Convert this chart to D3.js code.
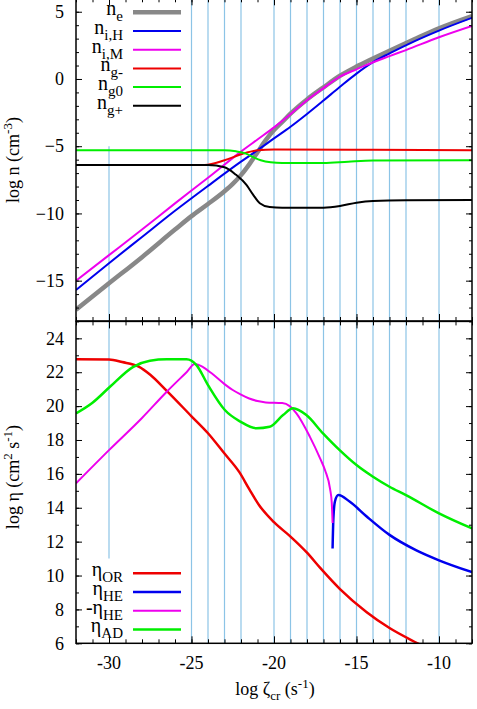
<!DOCTYPE html>
<html>
<head>
<meta charset="utf-8">
<script src="https://cdn.jsdelivr.net/npm/d3@7"></script>
<style>
  body { margin: 0; background: #fff; }
  svg text { font-family: "Liberation Serif", "Times New Roman", serif; }
</style>
</head>
<body>
<div id="chart-container"></div>
<script>
// log zeta_cr (s^-1) on x; top panel log n (cm^-3), bottom panel log eta (cm^2 s^-1)

// top panel: number densities
const nE = [[-32, -17.16], [-30, -15.2], [-28, -13.25], [-26, -11.2], [-25, -10.2], [-24, -9.3],
  [-23, -8.35], [-22.5, -7.8], [-22, -7.15], [-21.5, -6.35], [-21, -5.45], [-20.5, -4.55],
  [-20, -3.8], [-19.5, -3.2], [-19, -2.58], [-18, -1.52], [-17, -0.62], [-16, 0.24], [-15, 0.92],
  [-14, 1.52], [-13, 2.1], [-11.5, 2.95], [-10, 3.77], [-8, 4.68]];
const nIH = [[-32, -15.7], [-30, -13.7], [-28, -11.75], [-26, -9.8], [-24, -7.95], [-22, -6.15],
  [-21, -5.3], [-20, -4.42], [-19, -3.55], [-18, -2.6], [-17, -1.6], [-16, -0.58], [-15, 0.4],
  [-14, 1.25], [-13, 1.9], [-11.5, 2.8], [-10, 3.6], [-8, 4.55]];
const nIM = [[-32, -15.0], [-30, -13.1], [-28, -11.2], [-26, -9.25], [-24, -7.35], [-22, -5.4],
  [-21, -4.5], [-20, -3.6], [-19, -2.62], [-18, -1.58], [-17, -0.68], [-16, 0.17], [-15, 0.72],
  [-14.5, 0.99], [-13, 1.7], [-12, 2.15], [-10, 3.1], [-8, 3.94]];
const nGminus = [[-32, -6.4], [-24.2, -6.4], [-23, -6.05], [-22, -5.6], [-21, -5.3], [-20, -5.25],
  [-14, -5.27], [-8, -5.3]];
const nG0 = [[-32, -5.3], [-23, -5.3], [-22.3, -5.38], [-21.7, -5.55], [-21.2, -5.85],
  [-20.8, -6.05], [-20.2, -6.2], [-19.5, -6.25], [-17, -6.25], [-15.5, -6.15], [-14, -6.07], [-8, -6.05]];
const nGplus = [[-32, -6.4], [-24, -6.4], [-23, -6.56], [-22.3, -7.13], [-21.67, -7.87],
  [-21.27, -8.6], [-20.86, -9.24], [-20.26, -9.53], [-19.5, -9.57], [-17, -9.57], [-16, -9.45],
  [-15, -9.2], [-14, -9.07], [-12, -9.02], [-8, -9.01]];

// bottom panel: resistivities
const etaOR = [[-32, 22.76], [-30, 22.75], [-29.2, 22.6], [-28.2, 22.33], [-27.5, 21.85],
  [-26.5, 20.9], [-25, 19.4], [-24, 18.4], [-23, 17.2], [-22.1, 16.1], [-21.5, 15.1],
  [-20.9, 14.15], [-20, 13.15], [-19, 12.3], [-18, 11.35], [-17.2, 10.45], [-16, 9.2],
  [-14.4, 7.85], [-13, 6.9], [-11.3, 6.0], [-10.5, 5.6]];
const etaHE = [[-16.45, 11.6], [-16.4, 13.4], [-16.3, 14.4], [-16.1, 14.75], [-15.4, 14.35],
  [-14.4, 13.5], [-13, 12.4], [-11.4, 11.5], [-10, 10.9], [-8, 10.2]];
const etaHEneg = [[-32, 15.44], [-30, 17.4], [-28, 19.3], [-26.5, 20.85], [-25.3, 22.0],
  [-24.8, 22.48], [-24.3, 22.3], [-23.8, 21.95], [-23, 21.3], [-22.5, 20.95], [-22, 20.68],
  [-21.5, 20.45], [-21, 20.3], [-20.5, 20.22], [-19.5, 20.18], [-19.05, 20.0], [-18.64, 19.57],
  [-17.83, 18.2], [-17.2, 16.9], [-16.9, 16.2], [-16.6, 15.1], [-16.5, 14.3], [-16.45, 13.1]];
const etaAD = [[-32, 19.57], [-31, 20.2], [-29.94, 21.14], [-28.53, 22.32], [-27.52, 22.68],
  [-26.5, 22.76], [-25.3, 22.76], [-24.7, 22.42], [-24, 21.24], [-22.98, 19.77], [-22.03, 19.08],
  [-21.06, 18.69], [-20.26, 18.78], [-19.45, 19.47], [-18.85, 19.87], [-18.04, 19.47],
  [-17.03, 18.39], [-16.02, 17.4], [-15, 16.52], [-14, 15.83], [-13, 15.24], [-12, 14.75],
  [-10, 13.67], [-8, 12.78]];

// vertical reference lines (log zeta_cr)
const zetaMarks = [-30, -25, -24, -23, -22, -20, -19, -18, -17, -16, -15, -14, -13, -12, -10];

const xTicks = [-30, -25, -20, -15, -10];
const topTicks = [-15, -10, -5, 0, 5];
const bottomTicks = [6, 8, 10, 12, 14, 16, 18, 20, 22, 24];

// draw order: grey underneath so the thin lines sit on top of it
const topSeries = [
  { key: "ne", data: nE, color: "#888888", width: 4.5, label: ["n", "e"] },
  { key: "niH", data: nIH, color: "#0000ee", width: 2, label: ["n", "i,H"] },
  { key: "niM", data: nIM, color: "#ee00ee", width: 2, label: ["n", "i,M"] },
  { key: "ngm", data: nGminus, color: "#ee0000", width: 2, label: ["n", "g-"] },
  { key: "ng0", data: nG0, color: "#00ee00", width: 2, label: ["n", "g0"] },
  { key: "ngp", data: nGplus, color: "#000000", width: 2, label: ["n", "g+"] },
];
const bottomSeries = [
  { key: "or", data: etaOR, color: "#ee0000", width: 2.5, label: ["\u03b7", "OR"] },
  { key: "he", data: etaHE, color: "#0000ee", width: 2.5, label: ["\u03b7", "HE"] },
  { key: "hen", data: etaHEneg, color: "#ee00ee", width: 2, label: ["-\u03b7", "HE"] },
  { key: "ad", data: etaAD, color: "#00ee00", width: 2.5, label: ["\u03b7", "AD"] },
];

// dimensions
const width = 477;
const height = 709;
const left = 76;
const right = 472;
const serif = "Liberation Serif";

const x = d3.scaleLinear().domain([-32, -8]).range([left, right]);
const yTop = d3.scaleLinear().domain([-18, 6]).range([321, -1.7]);
const yBot = d3.scaleLinear().domain([6, 25]).range([643.3, 321.4]);

const svg = d3
  .select("#chart-container")
  .append("svg")
  .attr("width", width)
  .attr("height", height)
  .attr("viewBox", [0, 0, width, height])
  .attr("font-family", serif);

function plainAxis(a) {
  a.attr("font-family", null).attr("font-size", null);
  a.select(".domain").remove();
}

function drawPanel(y, series, majorY, id, legendTop) {
  const [y0, y1] = y.range();
  const g = svg.append("g").attr("class", "panel-" + id);

  g.append("clipPath")
    .attr("id", "clip-" + id)
    .append("rect")
    .attr("x", left)
    .attr("y", y1)
    .attr("width", right - left)
    .attr("height", y0 - y1);

  // reference lines; the -30 one stops short of the legend
  g.append("g")
    .selectAll("line")
    .data(zetaMarks)
    .join("line")
    .attr("x1", (d) => x(d))
    .attr("x2", (d) => x(d))
    .attr("y1", (d) => (d === -30 && id === "top" ? y(-5) : y1))
    .attr("y2", (d) => (d === -30 && id === "bot" ? y(11) : y0))
    .attr("stroke", "#8cc4e6")
    .attr("stroke-width", 1.2);

  // curves
  const line = d3
    .line()
    .x((d) => x(d[0]))
    .y((d) => y(d[1]))
    .curve(d3.curveMonotoneX);

  g.append("g")
    .attr("clip-path", `url(#clip-${id})`)
    .selectAll("path")
    .data(series)
    .join("path")
    .attr("fill", "none")
    .attr("stroke", (d) => d.color)
    .attr("stroke-width", (d) => d.width)
    .attr("stroke-linejoin", "round")
    .attr("d", (d) => line(d.data));

  // axes: ticks inside, mirrored on all four sides
  const yMinor = d3.range(y.domain()[0], y.domain()[1] + 0.01, 1);
  const xMinor = d3.range(-32, -7.99, 1);

  g.append("g")
    .attr("transform", `translate(${left},0)`)
    .call(d3.axisLeft(y).tickValues(yMinor).tickSize(-3).tickFormat(""))
    .call(plainAxis);
  g.append("g")
    .attr("transform", `translate(${right},0)`)
    .call(d3.axisRight(y).tickValues(yMinor).tickSize(-3).tickFormat(""))
    .call(plainAxis);
  g.append("g")
    .attr("class", "y-major")
    .attr("transform", `translate(${left},0)`)
    .call(d3.axisLeft(y).tickValues(majorY).tickSize(-6).tickPadding(12).tickFormat(d3.format("d")))
    .call(plainAxis);
  g.append("g")
    .attr("transform", `translate(${right},0)`)
    .call(d3.axisRight(y).tickValues(majorY).tickSize(-6).tickFormat(""))
    .call(plainAxis);

  g.append("g")
    .attr("transform", `translate(0,${y0})`)
    .call(d3.axisBottom(x).tickValues(xMinor).tickSize(-4).tickFormat(""))
    .call(plainAxis);
  g.append("g")
    .attr("transform", `translate(0,${y1})`)
    .call(d3.axisTop(x).tickValues(xMinor).tickSize(-4).tickFormat(""))
    .call(plainAxis);
  g.append("g")
    .attr("transform", `translate(0,${y0})`)
    .call(d3.axisBottom(x).tickValues(xTicks).tickSize(-7).tickFormat(""))
    .call(plainAxis);
  g.append("g")
    .attr("transform", `translate(0,${y1})`)
    .call(d3.axisTop(x).tickValues(xTicks).tickSize(-7).tickFormat(""))
    .call(plainAxis);

  g.selectAll(".tick line").attr("stroke", "#000").attr("stroke-width", 1);
  g.selectAll(".y-major text")
    .attr("font-size", 18)
    .attr("font-family", serif)
    .attr("fill", "#000");

  // frame
  g.append("rect")
    .attr("x", left)
    .attr("y", y1)
    .attr("width", right - left)
    .attr("height", y0 - y1)
    .attr("fill", "none")
    .attr("stroke", "#000")
    .attr("stroke-width", 1.5);

  // legend
  const leg = g
    .append("g")
    .selectAll("g")
    .data(series)
    .join("g")
    .attr("transform", (d, i) => `translate(0,${legendTop + i * 18.7})`);
  leg.append("line")
    .attr("x1", 133)
    .attr("x2", 181)
    .attr("stroke", (d) => d.color)
    .attr("stroke-width", (d) => d.width);
  const t = leg.append("text")
    .attr("x", 123)
    .attr("y", 3)
    .attr("text-anchor", "end")
    .attr("font-family", serif)
    .attr("font-size", 20);
  t.append("tspan").text((d) => d.label[0]);
  t.append("tspan").attr("dy", 6).attr("font-size", 15).text((d) => d.label[1]);
}

drawPanel(yTop, topSeries, topTicks, "top", 12.3);
drawPanel(yBot, bottomSeries, bottomTicks, "bot", 573.3);

// x tick labels
svg.append("g")
  .selectAll("text")
  .data(xTicks)
  .join("text")
  .attr("x", (d) => x(d))
  .attr("y", 669)
  .attr("text-anchor", "middle")
  .attr("font-family", serif)
  .attr("font-size", 18)
  .text((d) => d);

// axis titles
const xTitle = svg.append("text")
  .attr("x", 275)
  .attr("y", 695)
  .attr("text-anchor", "middle")
  .attr("font-family", serif)
  .attr("font-size", 18);
xTitle.append("tspan").text("log \u03b6");
xTitle.append("tspan").attr("dy", 5).attr("font-size", 13).text("cr");
xTitle.append("tspan").attr("dy", -5).text(" (s");
xTitle.append("tspan").attr("dy", -7).attr("font-size", 13).text("-1");
xTitle.append("tspan").attr("dy", 7).text(")");

const yTitleTop = svg.append("text")
  .attr("transform", `translate(19,${160}) rotate(-90)`)
  .attr("text-anchor", "middle")
  .attr("font-family", serif)
  .attr("font-size", 18);
yTitleTop.append("tspan").text("log n (cm");
yTitleTop.append("tspan").attr("dy", -7).attr("font-size", 13).text("-3");
yTitleTop.append("tspan").attr("dy", 7).text(")");

const yTitleBot = svg.append("text")
  .attr("transform", `translate(19,${477}) rotate(-90)`)
  .attr("text-anchor", "middle")
  .attr("font-family", serif)
  .attr("font-size", 18);
yTitleBot.append("tspan").text("log \u03b7 (cm");
yTitleBot.append("tspan").attr("dy", -7).attr("font-size", 13).text("2");
yTitleBot.append("tspan").attr("dy", 7).text(" s");
yTitleBot.append("tspan").attr("dy", -7).attr("font-size", 13).text("-1");
yTitleBot.append("tspan").attr("dy", 7).text(")");
</script>
</body>
</html>
